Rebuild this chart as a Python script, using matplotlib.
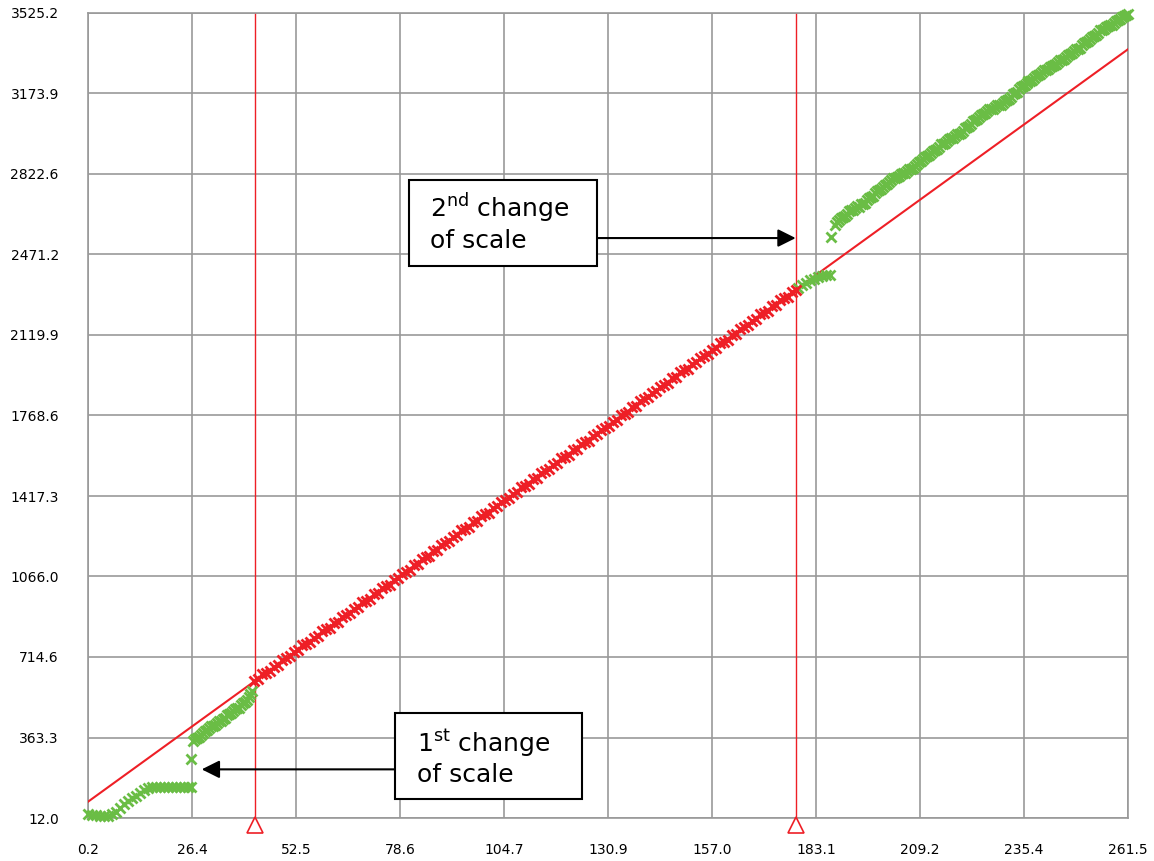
import matplotlib
matplotlib.use("Agg")
import matplotlib.pyplot as plt
from matplotlib.patches import Rectangle
import matplotlib.transforms as mtransforms
import numpy as np

# ---------------- data ----------------
x_tick_labels = ["0.2", "26.4", "52.5", "78.6", "104.7", "130.9", "157.0",
                 "183.1", "209.2", "235.4", "261.5"]
y_tick_labels = ["12.0", "363.3", "714.6", "1066.0", "1417.3", "1768.6",
                 "2119.9", "2471.2", "2822.6", "3173.9", "3525.2"]
x_min, x_max = 0.2, 261.5
y_min, y_max = 12.0, 3525.2

# reference straight line
line_x = [0.2, 261.5]
line_y = [83.0, 3367.0]

# scale-change positions
change_x = [42.16, 178.08]

# red markers (between the two changes of scale)
red_x = list(range(42, 179))
red_y = [611, 618, 639, 646, 654, 673, 680, 701, 709, 717, 738, 744, 765, 772,
         780, 799, 806, 827, 835, 842, 862, 869, 890, 897, 905, 925, 932, 953,
         960, 968, 988, 995, 1016, 1023, 1031, 1051, 1058, 1079, 1086, 1094,
         1114, 1121, 1141, 1149, 1156, 1177, 1183, 1204, 1212, 1219, 1240,
         1246, 1267, 1274, 1282, 1302, 1309, 1330, 1337, 1345, 1365, 1372,
         1393, 1400, 1408, 1428, 1435, 1456, 1463, 1471, 1491, 1498, 1518,
         1526, 1533, 1554, 1560, 1581, 1589, 1596, 1617, 1623, 1644, 1651,
         1659, 1679, 1686, 1707, 1714, 1722, 1742, 1749, 1770, 1777, 1785,
         1805, 1812, 1833, 1840, 1848, 1868, 1875, 1895, 1903, 1910, 1931,
         1937, 1958, 1966, 1973, 1994, 2000, 2021, 2028, 2036, 2056, 2063,
         2084, 2091, 2099, 2119, 2126, 2147, 2154, 2162, 2182, 2189, 2210,
         2217, 2225, 2245, 2252, 2272, 2280, 2287, 2308, 2318]

# green markers
green_x = [0.2, 1.2, 2.2, 3.2, 4.2, 5.2, 6.2, 7.2, 8.2, 9.2, 10.2, 11.2, 12.2,
           13.2, 14.2, 15.2, 16.2, 17.2, 18.2, 19.2, 20.2, 21.2, 22.2, 23.2,
           24.2, 25.2, 26.0,
           26.2,
           26.7, 27.7, 28.7, 29.7, 30.7, 31.7, 32.7, 33.7, 34.7, 35.7, 36.7,
           37.7, 38.7, 39.7, 40.7, 41.5,
           178.6, 179.6, 180.6, 181.6, 182.6, 183.6, 184.6, 185.6, 186.6,
           187.0, 188.0, 189.0, 190.0, 191.0, 192.0, 193.0, 194.0, 195.0, 196.0,
           197.0, 198.0, 199.0, 200.0, 201.0, 202.0, 203.0, 204.0, 205.0, 206.0,
           207.0, 208.0, 209.0, 210.0, 211.0, 212.0, 213.0, 214.0, 215.0, 216.0,
           217.0, 218.0, 219.0, 220.0, 221.0, 222.0, 223.0, 224.0, 225.0, 226.0,
           227.0, 228.0, 229.0, 230.0, 231.0, 232.0, 233.0, 234.0, 235.0, 236.0,
           237.0, 238.0, 239.0, 240.0, 241.0, 242.0, 243.0, 244.0, 245.0, 246.0,
           247.0, 248.0, 249.0, 250.0, 251.0, 252.0, 253.0, 254.0, 255.0, 256.0,
           257.0, 258.0, 259.0, 260.0, 261.0, 261.5]
green_y = [28, 26, 24, 22, 21, 22, 28, 40, 55, 72, 86, 98, 110,
           122, 133, 141, 146, 148, 149, 148, 148, 149, 148, 148,
           149, 148, 148,
           270,
           350, 362, 375, 390, 404, 414, 425, 437, 450, 466, 478,
           490, 503, 520, 540, 565,
           2325, 2336, 2348, 2358, 2366, 2372, 2377, 2380, 2382,
           2546, 2600, 2622, 2635, 2650, 2664, 2674, 2680, 2692, 2710,
           2724, 2738, 2752, 2766, 2781, 2795, 2806, 2816, 2826, 2836,
           2845, 2856, 2874, 2888, 2900, 2914, 2928, 2942, 2955, 2968,
           2978, 2988, 2998, 3012, 3026, 3042, 3058, 3072, 3086, 3098,
           3106, 3114, 3122, 3132, 3144, 3158, 3174, 3192, 3206, 3218,
           3230, 3242, 3254, 3266, 3277, 3288, 3298, 3310, 3322, 3334,
           3346, 3358, 3370, 3384, 3398, 3412, 3426, 3440, 3452, 3462,
           3472, 3482, 3494, 3506, 3516, 3522]

# extra green markers (the band is dense in the picture)
green2_x = [27.2, 28.2, 29.2, 30.2, 31.2, 32.2, 33.2, 34.2, 35.2, 36.2, 37.2,
            38.2, 39.2, 40.2, 41.0,
            188.5, 189.5, 190.5, 191.5, 192.5, 193.5, 194.5, 195.5, 196.5,
            197.5, 198.5, 199.5, 200.5, 201.5, 202.5, 203.5, 204.5, 205.5,
            206.5, 207.5, 208.5, 209.5, 210.5, 211.5, 212.5, 213.5, 214.5,
            215.5, 216.5, 217.5, 218.5, 219.5, 220.5, 221.5, 222.5, 223.5,
            224.5, 225.5, 226.5, 227.5, 228.5, 229.5, 230.5, 231.5, 232.5,
            233.5, 234.5, 235.5, 236.5, 237.5, 238.5, 239.5, 240.5, 241.5,
            242.5, 243.5, 244.5, 245.5, 246.5, 247.5, 248.5, 249.5, 250.5,
            251.5, 252.5, 253.5, 254.5, 255.5, 256.5, 257.5, 258.5, 259.5, 260.5]
green2_y = [358, 366, 385, 394, 412, 418, 434, 442, 460, 470, 486,
            494, 514, 528, 555,
            2615, 2632, 2640, 2660, 2666, 2682, 2690, 2698, 2720,
            2728, 2748, 2756, 2776, 2786, 2804, 2808, 2824, 2828,
            2844, 2848, 2868, 2878, 2898, 2904, 2924, 2932, 2952,
            2958, 2976, 2980, 2996, 3002, 3022, 3032, 3054, 3062,
            3082, 3088, 3106, 3108, 3122, 3124, 3142, 3148, 3170,
            3180, 3202, 3210, 3228, 3234, 3252, 3258, 3276, 3280,
            3296, 3302, 3320, 3326, 3344, 3350, 3368, 3374, 3394,
            3402, 3422, 3430, 3450, 3454, 3470, 3474, 3492, 3498, 3514]

# ---------------- styles ----------------
RED = "#EE1F26"
GREEN = "#6ABD45"
GRID = "#999999"

W, H = 1154, 861
fig = plt.figure(figsize=(W / 100, H / 100), dpi=100)
ax = fig.add_axes([88 / W, 1 - 818 / H, 1040 / W, 805 / H])

ax.set_xlim(x_min, x_max)
ax.set_ylim(y_min, y_max)
ax.set_xticks(np.linspace(x_min, x_max, len(x_tick_labels)))
ax.set_xticklabels(x_tick_labels)
ax.set_yticks(np.linspace(y_min, y_max, len(y_tick_labels)))
ax.set_yticklabels(y_tick_labels)
ax.tick_params(axis="both", length=0, labelsize=10, colors="black")
ax.tick_params(axis="x", pad=18)
ax.tick_params(axis="y", pad=21)
ax.grid(True, color=GRID, linewidth=1.2)
ax.set_axisbelow(True)
for s in ax.spines.values():
    s.set_color(GRID)
    s.set_linewidth(1.2)

# vertical change lines
for cx in change_x:
    ax.axvline(cx, color=RED, linewidth=1.0, zorder=2)
trans = mtransforms.blended_transform_factory(ax.transData, ax.transAxes)
ax.plot(change_x, [-0.0093] * len(change_x), linestyle="none", marker="^",
        markersize=11, markerfacecolor="white", markeredgecolor=RED,
        markeredgewidth=1.2, transform=trans, clip_on=False, zorder=5)

# reference line
ax.plot(line_x, line_y, color=RED, linewidth=1.5, zorder=3)

# markers
mk = dict(linestyle="none", marker="x", markersize=7, markeredgewidth=2.0,
          clip_on=False, zorder=4)
ax.plot(green_x, green_y, color=GREEN, **mk)
ax.plot(green2_x, green2_y, color=GREEN, **mk)
ax.plot(red_x, red_y, color=RED, **mk)

# annotation boxes
def box(x0, y0, x1, y1):
    ax.add_patch(Rectangle((x0, y0), x1 - x0, y1 - y0, facecolor="white",
                           edgecolor="black", linewidth=1.5, zorder=6))

box(77.33, 94.8, 124.3, 469.7)
ax.text(82.86, 299.7, r"1$^{\mathrm{st}}$ change", fontsize=18, va="baseline",
        ha="left", zorder=7)
ax.text(82.86, 168.9, "of scale", fontsize=18, va="baseline", ha="left", zorder=7)
ax.annotate("", xy=(28.77, 224.3), xytext=(77.33, 224.3),
            arrowprops=dict(arrowstyle="-|>", mutation_scale=27, color="black",
                            linewidth=1.5, shrinkA=0, shrinkB=0), zorder=6)

box(80.85, 2422.4, 128.1, 2797.3)
ax.text(86.1, 2633, r"2$^{\mathrm{nd}}$ change", fontsize=18, va="baseline",
        ha="left", zorder=7)
ax.text(86.1, 2499.6, "of scale", fontsize=18, va="baseline", ha="left", zorder=7)
ax.annotate("", xy=(178.0, 2543), xytext=(128.1, 2543),
            arrowprops=dict(arrowstyle="-|>", mutation_scale=27, color="black",
                            linewidth=1.5, shrinkA=0, shrinkB=0), zorder=6)

fig.savefig("out.png", dpi=100, facecolor="white")
